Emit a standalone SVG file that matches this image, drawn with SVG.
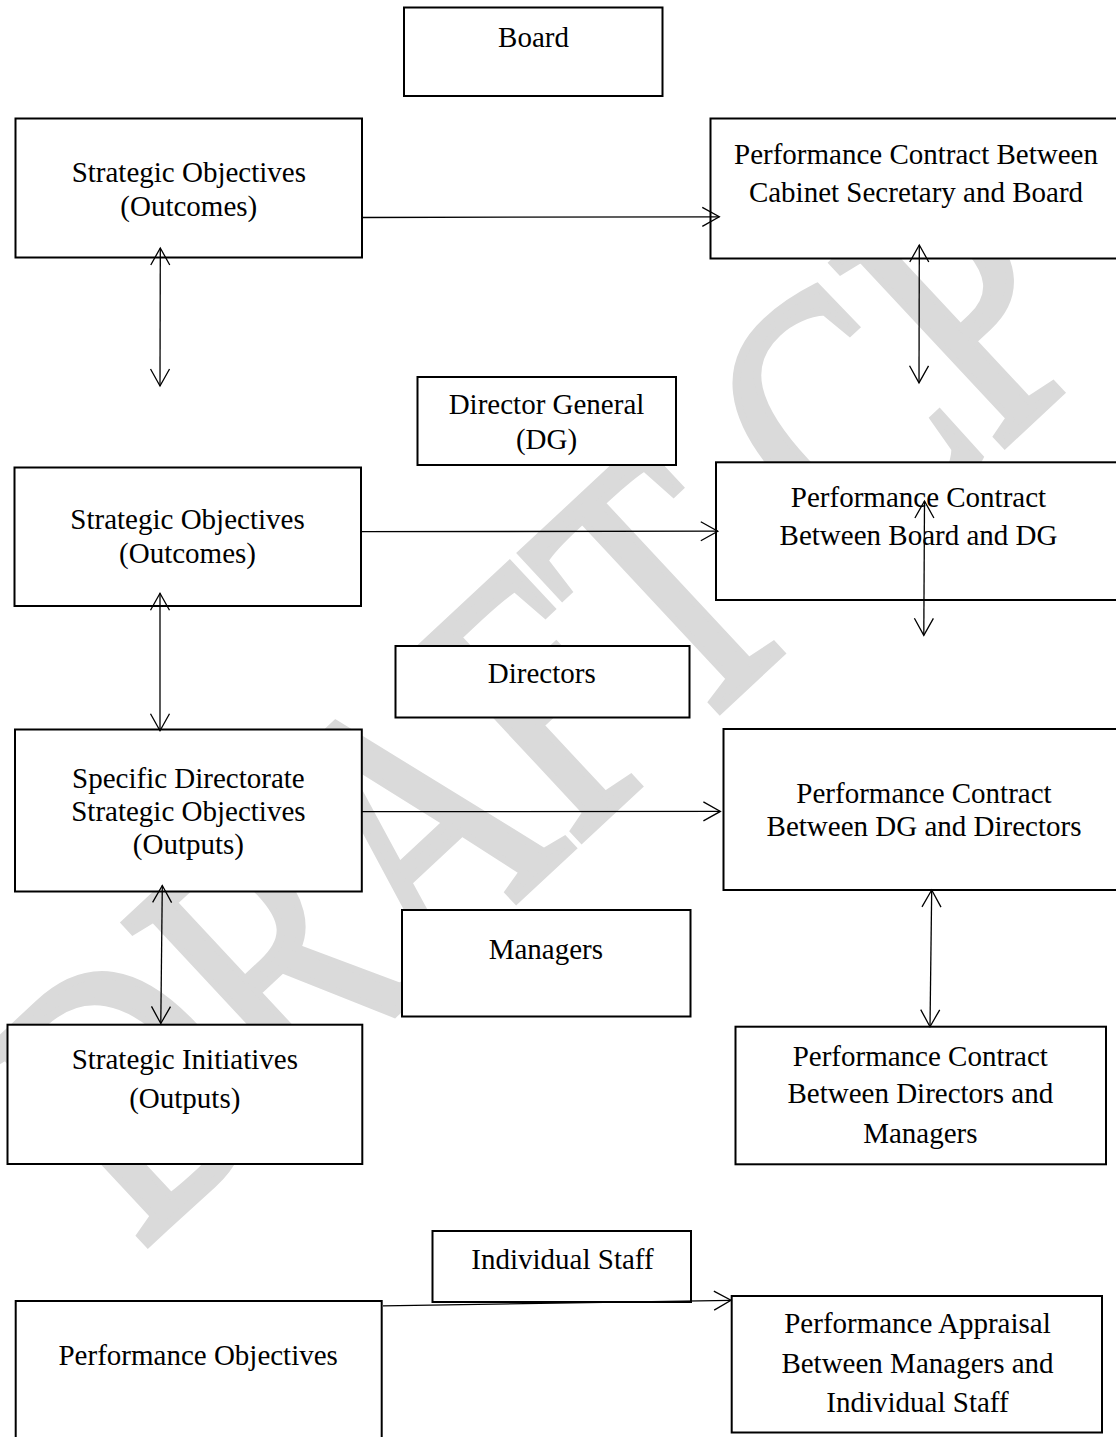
<svg xmlns="http://www.w3.org/2000/svg" width="1116" height="1437" viewBox="0 0 1116 1437">
<defs>
<style>
.box{fill:#fff;stroke:#000;stroke-width:2}
.t{font-family:"Liberation Serif","Times New Roman",serif;font-size:29px;fill:#000;text-anchor:middle}
.c{fill:none;stroke:#000;stroke-width:1.3}
.wm{font-family:"Liberation Serif","Times New Roman",serif;font-size:380px;fill:#dadada;stroke:#dadada;stroke-width:9;text-anchor:middle}
</style>
<marker id="ah" markerUnits="userSpaceOnUse" markerWidth="22" markerHeight="24" viewBox="-19 -12 22 24" refX="0" refY="0" orient="auto-start-reverse">
<path d="M-17,-9.5 L0,0 L-17,9.5" fill="none" stroke="#000" stroke-width="1.3"/>
</marker>
</defs>
<rect width="1116" height="1437" fill="#fff"/>
<g id="watermark">
<text class="wm" transform="translate(626,797) rotate(-43) scale(0.737,1)">DRAFT CP</text>
</g>
<g id="board"><rect class="box" x="404" y="7.5" width="258.5" height="88.5"/><text class="t" x="533.5" y="46.7">Board</text></g>
<g id="so1"><rect class="box" x="15.5" y="118.5" width="346.5" height="139"/><text class="t" x="188.8" y="182">Strategic Objectives</text><text class="t" x="188.8" y="216">(Outcomes)</text></g>
<g id="pc1"><rect class="box" x="710.5" y="118.5" width="420" height="140"/><text class="t" x="916" y="164">Performance Contract Between</text><text class="t" x="916" y="201.7">Cabinet Secretary and Board</text></g>
<g id="dg"><rect class="box" x="417.5" y="377" width="258.5" height="88"/><text class="t" x="546.5" y="414.3">Director General</text><text class="t" x="546.5" y="448.5">(DG)</text></g>
<g id="so2"><rect class="box" x="14.5" y="467.5" width="346.5" height="138.5"/><text class="t" x="187.5" y="529.3">Strategic Objectives</text><text class="t" x="187.5" y="563.3">(Outcomes)</text></g>
<g id="pc2"><rect class="box" x="716" y="462.3" width="420" height="137.7"/><text class="t" x="918.5" y="506.7">Performance Contract</text><text class="t" x="918.5" y="545">Between Board and DG</text></g>
<g id="directors"><rect class="box" x="395.5" y="646" width="294" height="71.5"/><text class="t" x="541.8" y="683.3">Directors</text></g>
<g id="sdso"><rect class="box" x="15" y="729.5" width="346.8" height="162"/><text class="t" x="188.4" y="787.5">Specific Directorate</text><text class="t" x="188.4" y="820.5">Strategic Objectives</text><text class="t" x="188.4" y="853.7">(Outputs)</text></g>
<g id="pc3"><rect class="box" x="723.5" y="729" width="420" height="161"/><text class="t" x="924" y="802.8">Performance Contract</text><text class="t" x="924" y="836.1">Between DG and Directors</text></g>
<g id="managers"><rect class="box" x="402" y="910" width="288.5" height="106.5"/><text class="t" x="545.8" y="958.6">Managers</text></g>
<g id="si"><rect class="box" x="7.5" y="1024.7" width="354.8" height="139.3"/><text class="t" x="184.8" y="1069">Strategic Initiatives</text><text class="t" x="184.8" y="1108.3">(Outputs)</text></g>
<g id="pc4"><rect class="box" x="735.5" y="1026.7" width="370.5" height="137.6"/><text class="t" x="920.3" y="1066">Performance Contract</text><text class="t" x="920.3" y="1103.3">Between Directors and</text><text class="t" x="920.3" y="1142.7">Managers</text></g>
<g id="staff"><rect class="box" x="432.5" y="1231" width="258.5" height="71"/><text class="t" x="562.5" y="1268.6">Individual Staff</text></g>
<g id="po"><rect class="box" x="15.7" y="1301" width="366" height="150"/><text class="t" x="198.2" y="1364.8">Performance Objectives</text></g>
<g id="pa"><rect class="box" x="731.7" y="1296" width="370.3" height="136.5"/><text class="t" x="917.5" y="1333.3">Performance Appraisal</text><text class="t" x="917.5" y="1372.7">Between Managers and</text><text class="t" x="917.5" y="1411.7">Individual Staff</text></g>
<g id="connectors">
<path class="c" d="M362,217.5 L719.3,216.8" marker-end="url(#ah)"/>
<path class="c" d="M361,531.7 L717.8,531.2" marker-end="url(#ah)"/>
<path class="c" d="M361.8,811.7 L720.4,811.4" marker-end="url(#ah)"/>
<path class="c" d="M383,1305.8 L731,1300.3" marker-end="url(#ah)"/>
<path class="c" d="M160.3,248 L160,386" marker-start="url(#ah)" marker-end="url(#ah)"/>
<path class="c" d="M919.3,245 L919,382.8" marker-start="url(#ah)" marker-end="url(#ah)"/>
<path class="c" d="M160,593.3 L160,730.7" marker-start="url(#ah)" marker-end="url(#ah)"/>
<path class="c" d="M924.5,501 L923.8,635.3" marker-start="url(#ah)" marker-end="url(#ah)"/>
<path class="c" d="M162.3,885.5 L160.8,1023.5" marker-start="url(#ah)" marker-end="url(#ah)"/>
<path class="c" d="M931.7,890 L930,1026.7" marker-start="url(#ah)" marker-end="url(#ah)"/>
</g>
</svg>
